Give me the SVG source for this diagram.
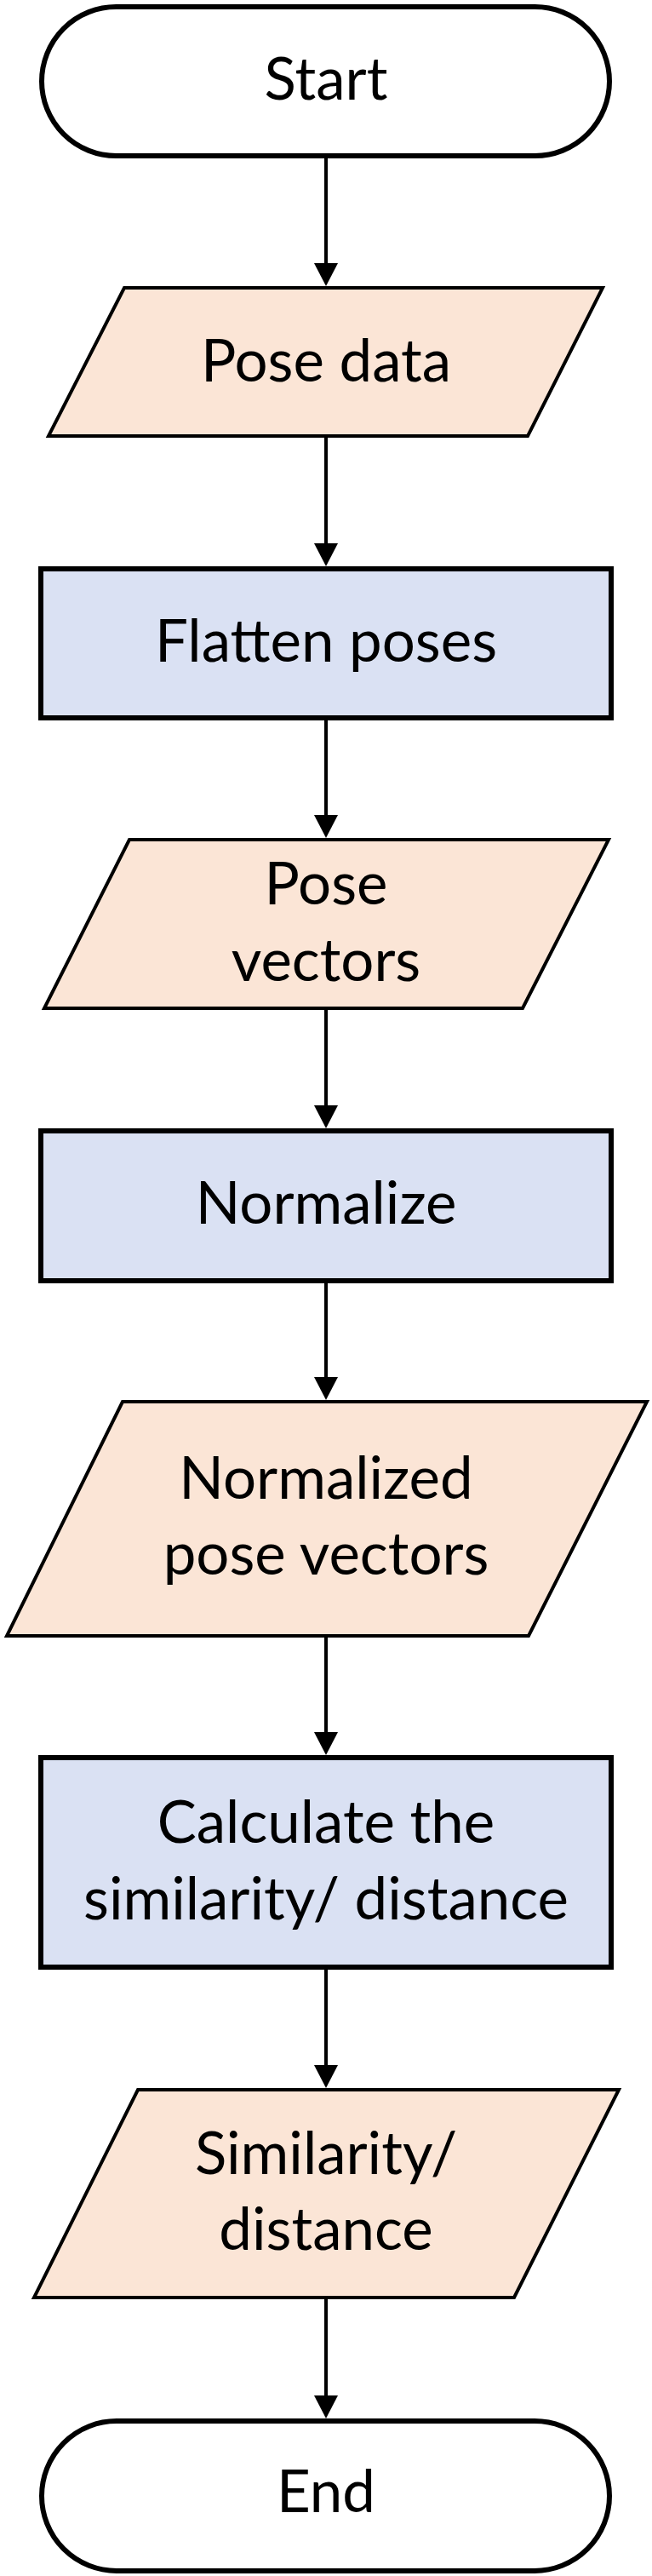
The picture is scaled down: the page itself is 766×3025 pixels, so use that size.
<svg xmlns="http://www.w3.org/2000/svg" width="766" height="3025" viewBox="0 0 766 3025">
<style>
.term{fill:#ffffff;stroke:#000;stroke-width:6}
.proc{fill:#DAE1F3;stroke:#000;stroke-width:6}
.io{fill:#FBE5D6;stroke:#000;stroke-width:4;stroke-linejoin:miter}
.lbl{font-family:Lato,"Open Sans","Liberation Sans",sans-serif;font-size:69px;fill:#000;text-anchor:middle}
.edge{stroke:#000;stroke-width:4;fill:none;marker-end:url(#ah)}
</style>
<defs>
<marker id="ah" viewBox="0 0 27 28" refX="7" refY="14" markerWidth="27" markerHeight="28" markerUnits="userSpaceOnUse" orient="auto">
<path d="M0,0 L27,14 L0,28 z" fill="#000"/>
</marker>
</defs>
<rect width="766" height="3025" fill="#ffffff"/>
<g id="connectors">
<line class="edge" x1="383" y1="186" x2="383" y2="316"/>
<line class="edge" x1="383" y1="514" x2="383" y2="645"/>
<line class="edge" x1="383" y1="846" x2="383" y2="964"/>
<line class="edge" x1="383" y1="1186" x2="383" y2="1305"/>
<line class="edge" x1="383" y1="1507" x2="383" y2="1624"/>
<line class="edge" x1="383" y1="1923" x2="383" y2="2041"/>
<line class="edge" x1="383" y1="2313" x2="383" y2="2432"/>
<line class="edge" x1="383" y1="2700" x2="383" y2="2820"/>
</g>
<g id="start">
<rect class="term" x="49" y="8" width="667" height="175" rx="87.5" ry="87.5"/>
<text class="lbl" x="383" y="117">Start</text>
</g>
<g id="pose-data">
<polygon class="io" points="146,338 708,338 620,512 57,512"/>
<text class="lbl" x="383" y="448">Pose data</text>
</g>
<g id="flatten-poses">
<rect class="proc" x="48" y="668" width="670" height="175"/>
<text class="lbl" x="383" y="777">Flatten poses</text>
</g>
<g id="pose-vectors">
<polygon class="io" points="152,986 715,986 614,1184 52,1184"/>
<text class="lbl" x="383" y="1062">Pose</text>
<text class="lbl" x="383" y="1152">vectors</text>
</g>
<g id="normalize">
<rect class="proc" x="48" y="1328" width="670" height="176"/>
<text class="lbl" x="383" y="1437">Normalize</text>
</g>
<g id="normalized-pose-vectors">
<polygon class="io" points="144,1646 760,1646 621,1921 8,1921"/>
<text class="lbl" x="383" y="1760">Normalized</text>
<text class="lbl" x="383" y="1849">pose vectors</text>
</g>
<g id="calculate">
<rect class="proc" x="48" y="2064" width="670" height="246"/>
<text class="lbl" x="383" y="2164">Calculate the</text>
<text class="lbl" x="383" y="2254">similarity/ distance</text>
</g>
<g id="similarity-distance">
<polygon class="io" points="162,2454 727,2454 604,2698 40,2698"/>
<text class="lbl" x="383" y="2553">Similarity/</text>
<text class="lbl" x="383" y="2642">distance</text>
</g>
<g id="end">
<rect class="term" x="49" y="2843" width="667" height="176" rx="88" ry="88"/>
<text class="lbl" x="383" y="2950">End</text>
</g>
</svg>
